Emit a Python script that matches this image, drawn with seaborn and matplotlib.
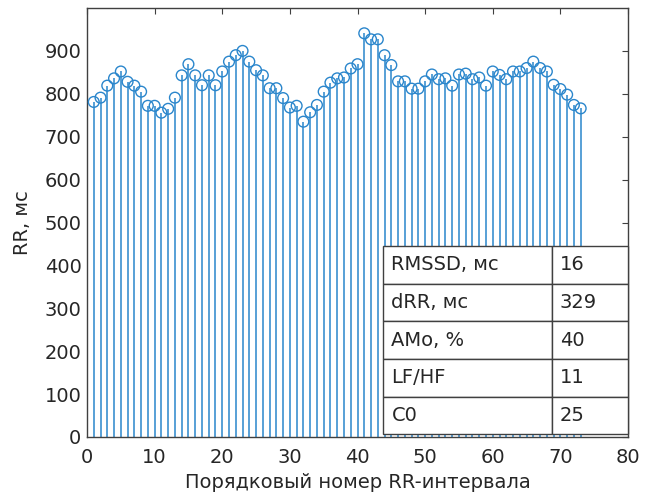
import matplotlib
matplotlib.use("Agg")
import matplotlib.pyplot as plt
import seaborn as sns
import numpy as np
import pandas as pd

rr_index = list(range(1, 74))
rr_ms = [781, 791, 819, 836, 852, 828, 819, 805, 772, 772,
         756, 765, 791, 843, 869, 843, 820, 843, 820, 852,
         875, 890, 900, 875, 855, 843, 813, 813, 790, 768,
         772, 735, 757, 774, 805, 826, 836, 838, 859, 869,
         941, 927, 927, 890, 867, 829, 829, 812, 812, 829,
         845, 834, 836, 819, 845, 847, 834, 838, 819, 852,
         844, 834, 852, 852, 860, 875, 860, 852, 821, 811,
         798, 774, 766]

table_labels = ["RMSSD, мс", "dRR, мс", "AMo, %", "LF/HF", "C0"]
table_values = ["16", "329", "40", "11", "25"]

xticks = list(range(0, 81, 10))
yticks = list(range(0, 901, 100))

sns.set_theme(style="white")
plt.rcParams['font.family'] = ['DejaVu Sans']

color = "#2a86cc"
text_color = "#262626"
fs = 14

df = pd.DataFrame({"n": rr_index, "rr": rr_ms})

fig = plt.figure(figsize=(6.51, 4.95), dpi=100)
ax = fig.add_axes([87/651, 58/495, 541/651, 429/495])

ax.vlines(df["n"], 0, df["rr"], color=color, linewidth=1.1, zorder=2)
sns.scatterplot(data=df, x="n", y="rr", ax=ax, marker="o", s=60,
                facecolors="none", edgecolor=color, linewidth=1.0, zorder=3)

ax.set_xlim(0, 80)
ax.set_ylim(0, 1000)
ax.set_xticks(xticks)
ax.set_yticks(yticks)
ax.tick_params(direction="in", length=4, width=0.8, colors="#404040",
               labelcolor=text_color, labelsize=fs, top=True, right=True)
ax.tick_params(axis="x", pad=8)
ax.tick_params(axis="y", pad=4)
for s in ax.spines.values():
    s.set_color("#404040")
    s.set_linewidth(1.0)

ax.set_xlabel("Порядковый номер RR-интервала", fontsize=fs, color=text_color, labelpad=4)
ax.set_ylabel("RR, мс", fontsize=fs, color=text_color, labelpad=9)

cells = [[l, v] for l, v in zip(table_labels, table_values)]
tb = ax.table(cellText=cells, cellLoc="left",
              bbox=[0.547, 0.006, 0.453, 0.439],
              colWidths=[0.69, 0.31])
tb.auto_set_font_size(False)
tb.set_fontsize(fs)
tb.set_zorder(6)
for (r, c), cell in tb.get_celld().items():
    cell.set_edgecolor("#404040")
    cell.set_linewidth(1.0)
    cell.set_facecolor("white")
    cell.get_text().set_color(text_color)
    cell.PAD = 0.05 if c == 0 else 0.1

fig.savefig("out.png", dpi=100)
